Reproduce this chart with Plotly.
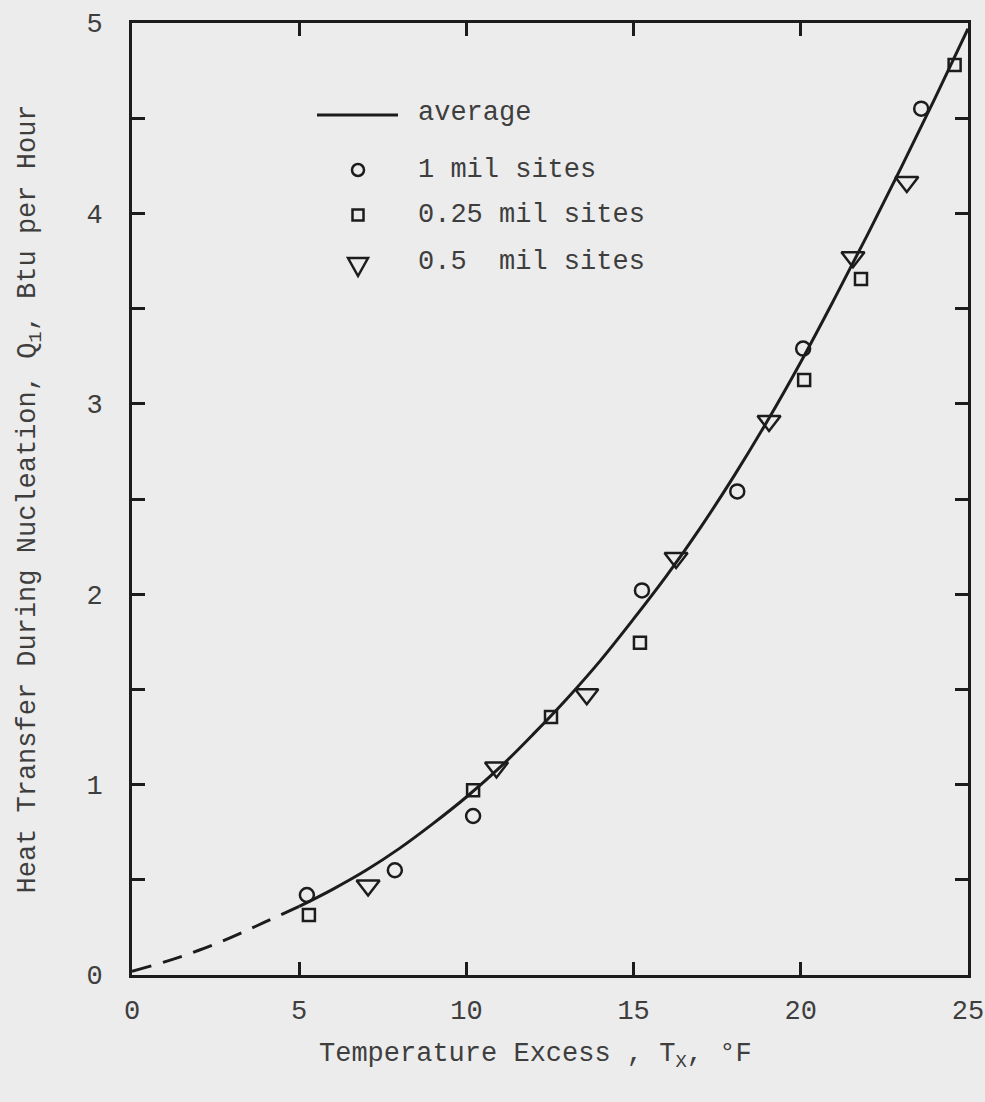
import plotly.graph_objects as go

# ---- data ----
avg_dash_x = [0, 1, 2, 3, 4, 5]
avg_dash_y = [0.02, 0.07, 0.13, 0.20, 0.28, 0.36]
avg_x = [5, 6, 7, 8, 9, 10, 11, 12, 13, 14, 15, 16, 17, 18, 19, 20, 21, 22, 23, 24, 25]
avg_y = [0.36, 0.45, 0.55, 0.665, 0.795, 0.935, 1.09, 1.265, 1.45, 1.65, 1.87, 2.10,
         2.35, 2.62, 2.91, 3.22, 3.55, 3.89, 4.24, 4.60, 4.97]

mil1_x = [5.23, 7.86, 10.2, 15.25, 18.1, 20.07, 23.6]
mil1_y = [0.42, 0.55, 0.835, 2.02, 2.54, 3.29, 4.55]

mil025_x = [5.29, 10.2, 12.53, 15.19, 20.1, 21.8, 24.6]
mil025_y = [0.315, 0.97, 1.355, 1.745, 3.125, 3.655, 4.78]

mil05_x = [7.06, 10.9, 13.6, 16.27, 19.05, 21.56, 23.17]
mil05_y = [0.47, 1.09, 1.475, 2.19, 2.91, 3.77, 4.165]

x_ticks = [0, 5, 10, 15, 20, 25]
y_ticks = [0, 1, 2, 3, 4, 5]
y_minor_step = 0.5

legend_labels = ["average", "1 mil sites", "0.25 mil sites", "0.5  mil sites"]
x_title = "Temperature Excess , T<sub>X</sub>, °F"
y_title = "Heat Transfer During Nucleation, Q<sub>1</sub>, Btu per Hour"

# ---- style ----
FONT = "Liberation Mono, Courier New, monospace"
INK = "#1c1c1c"
TXT = "#3e3e3e"
BG = "#ececec"
W, H = 985, 1102
L, R, T, B = 132, 17, 23, 127
PW, PH = W - L - R, H - T - B


def px2paper(px, py):
    return (px - L) / PW, (H - B - py) / PH


fig = go.Figure()
fig.add_trace(go.Scatter(x=avg_dash_x, y=avg_dash_y, mode="lines", name="average (extrapolated)",
                         line=dict(color=INK, width=3, dash="20px,12px", shape="spline"),
                         showlegend=False))
fig.add_trace(go.Scatter(x=avg_x, y=avg_y, mode="lines", name="average",
                         line=dict(color=INK, width=3, shape="spline"), showlegend=False))
fig.add_trace(go.Scatter(x=mil1_x, y=mil1_y, mode="markers", name="1 mil sites",
                         marker=dict(symbol="circle-open", size=14, color=INK, line=dict(width=2.5)),
                         showlegend=False))
fig.add_trace(go.Scatter(x=mil025_x, y=mil025_y, mode="markers", name="0.25 mil sites",
                         marker=dict(symbol="square-open", size=12, color=INK, line=dict(width=2.5)),
                         showlegend=False))
fig.add_trace(go.Scatter(x=mil05_x, y=mil05_y, mode="markers", name="0.5 mil sites",
                         marker=dict(symbol="triangle-down-open", size=20, color=INK, line=dict(width=2.5)),
                         showlegend=False))

shapes = []
annotations = []

# legend: line sample
x0, y0 = px2paper(317, 115)
x1, _ = px2paper(398, 115)
shapes.append(dict(type="line", xref="paper", yref="paper", x0=x0, x1=x1, y0=y0, y1=y0,
                   line=dict(color=INK, width=3)))
# circle
cx, cy = 358, 170
a0, b0 = px2paper(cx - 6, cy + 6)
a1, b1 = px2paper(cx + 6, cy - 6)
shapes.append(dict(type="circle", xref="paper", yref="paper", x0=a0, x1=a1, y0=b0, y1=b1,
                   line=dict(color=INK, width=2.5)))
# square
cx, cy = 358, 215
a0, b0 = px2paper(cx - 5.5, cy + 5.5)
a1, b1 = px2paper(cx + 5.5, cy - 5.5)
shapes.append(dict(type="rect", xref="paper", yref="paper", x0=a0, x1=a1, y0=b0, y1=b1,
                   line=dict(color=INK, width=2.5)))
# triangle down
cx, cy = 358, 266
p1 = px2paper(cx - 10, cy - 8)
p2 = px2paper(cx + 10, cy - 8)
p3 = px2paper(cx, cy + 10)
path = f"M{p1[0]},{p1[1]} L{p2[0]},{p2[1]} L{p3[0]},{p3[1]} Z"
shapes.append(dict(type="path", xref="paper", yref="paper", path=path,
                   line=dict(color=INK, width=2.5)))

for lab, py in zip(legend_labels, [113, 170, 215, 262]):
    lx, ly = px2paper(416, py)
    annotations.append(dict(text=lab, x=lx, y=ly, xref="paper", yref="paper",
                            xanchor="left", yanchor="middle", showarrow=False,
                            font=dict(family=FONT, size=27, color=TXT)))

# x axis title (placed left of centre, as in the original)
tx, ty = px2paper(535, 1056)
annotations.append(dict(text=x_title, x=tx, y=ty,
                        xref="paper", yref="paper", xanchor="center", yanchor="middle",
                        showarrow=False, font=dict(family=FONT, size=27, color=TXT)))

fig.update_layout(
    width=W, height=H, autosize=False,
    margin=dict(l=L, r=R, t=T, b=B),
    paper_bgcolor=BG, plot_bgcolor=BG,
    showlegend=False,
    shapes=shapes, annotations=annotations,
    xaxis=dict(range=[0, 25], tickvals=x_ticks, ticks="inside", ticklen=13, tickwidth=3,
               tickcolor=INK, showline=True, linecolor=INK, linewidth=3, mirror="ticks",
               showgrid=False, zeroline=False, ticklabelstandoff=9, automargin=False,
               tickfont=dict(family=FONT, size=27, color=TXT)),
    yaxis=dict(range=[0, 5], tickvals=y_ticks, ticks="inside",
               ticklen=13, tickwidth=3, tickcolor=INK, showline=True, linecolor=INK,
               linewidth=3, mirror="ticks", showgrid=False, zeroline=False, automargin=False,
               minor=dict(dtick=y_minor_step, tick0=0, ticks="inside", ticklen=13,
                          tickwidth=3, tickcolor=INK, showgrid=False),
               ticklabelstandoff=21, tickfont=dict(family=FONT, size=27, color=TXT),
               title=dict(text=y_title, standoff=43,
                          font=dict(family=FONT, size=27, color=TXT))),
)

fig.write_html(
    "out.html",
    config={"displayModeBar": False},
    post_script="document.body.style.margin='0';document.body.style.background='#ececec';",
)
